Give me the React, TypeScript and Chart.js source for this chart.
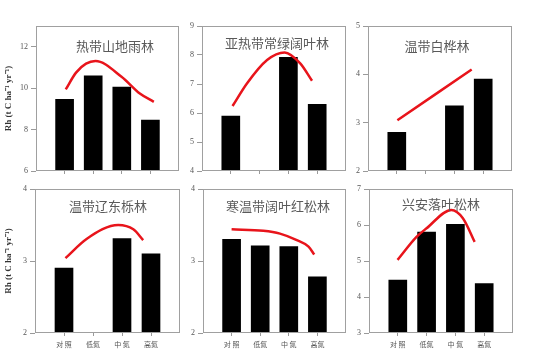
import React, { useEffect, useRef } from 'react';
import { Chart, registerables } from 'chart.js';

Chart.register(...registerables);

// ---------- data ----------
const CATEGORIES = ['对 照', '低氮', '中 氮', '高氮'];
const CATEGORY_X = [1, 2, 3, 4];
const Y_TITLE = 'Rh (t C ha⁻¹ yr⁻¹)';

const TITLE_1 = '热带山地雨林';
const BARS_1 = [9.46, 10.6, 10.05, 8.46];
const CURVE_X_1 = [1.04, 1.4, 1.75, 2.08, 2.99, 3.63, 4.12];
const CURVE_Y_1 = [9.94, 10.75, 11.18, 11.31, 10.55, 9.74, 9.34];
const Y_TICKS_1 = [6, 8, 10, 12];
const Y_RANGE_1 = [6, 13];

const TITLE_2 = '亚热带常绿阔叶林';
const BARS_2 = [5.89, null, 7.92, 6.3];
const CURVE_X_2 = [1.06, 1.56, 2.26, 2.87, 3.41, 3.82];
const CURVE_Y_2 = [6.24, 7.02, 7.83, 8.09, 7.71, 7.11];
const Y_TICKS_2 = [4, 5, 6, 7, 8, 9];
const Y_RANGE_2 = [4, 9];

const TITLE_3 = '温带白桦林';
const BARS_3 = [2.8, null, 3.35, 3.9];
const CURVE_X_3 = [1.02, 3.6];
const CURVE_Y_3 = [3.05, 4.1];
const Y_TICKS_3 = [2, 3, 4, 5];
const Y_RANGE_3 = [2, 5];

const TITLE_4 = '温带辽东栎林';
const BARS_4 = [2.9, null, 3.31, 3.1];
const CURVE_X_4 = [1.05, 1.79, 2.87, 3.39, 3.73];
const CURVE_Y_4 = [3.04, 3.31, 3.5, 3.44, 3.29];
const Y_TICKS_4 = [2, 3, 4];
const Y_RANGE_4 = [2, 4];

const TITLE_5 = '寒温带阔叶红松林';
const BARS_5 = [3.3, 3.21, 3.2, 2.78];
const CURVE_X_5 = [1.0, 2.11, 2.69, 3.28, 3.69, 3.89];
const CURVE_Y_5 = [3.44, 3.42, 3.38, 3.29, 3.2, 3.09];
const Y_TICKS_5 = [2, 3, 4];
const Y_RANGE_5 = [2, 4];

const TITLE_6 = '兴安落叶松林';
const BARS_6 = [4.47, 5.8, 6.02, 4.37];
const CURVE_X_6 = [0.99, 1.65, 2.0, 2.86, 3.26, 3.67];
const CURVE_Y_6 = [5.03, 5.67, 5.91, 6.42, 6.19, 5.53];
const Y_TICKS_6 = [3, 4, 5, 6, 7];
const Y_RANGE_6 = [3, 7];

// ---------- layout ----------
const PAD_TOP = 14;
const PAD_RIGHT = 6;
const X_H = 22;

type PanelCfg = {
  title: string;
  bars: (number | null)[];
  cx: number[];
  cy: number[];
  yTicks: number[];
  yRange: number[];
  plotL: number;
  plotT: number;
  plotW: number;
  plotH: number;
  yW: number;
  showYTitle: boolean;
  showXLabels: boolean;
  titleDx: number;
  titleDy: number;
};

const PANELS: PanelCfg[] = [
  { title: TITLE_1, bars: BARS_1, cx: CURVE_X_1, cy: CURVE_Y_1, yTicks: Y_TICKS_1, yRange: Y_RANGE_1,
    plotL: 36, plotT: 26, plotW: 143, plotH: 145, yW: 36, showYTitle: true, showXLabels: false, titleDx: 79, titleDy: 20 },
  { title: TITLE_2, bars: BARS_2, cx: CURVE_X_2, cy: CURVE_Y_2, yTicks: Y_TICKS_2, yRange: Y_RANGE_2,
    plotL: 202, plotT: 26, plotW: 144, plotH: 145, yW: 20, showYTitle: false, showXLabels: false, titleDx: 75, titleDy: 17 },
  { title: TITLE_3, bars: BARS_3, cx: CURVE_X_3, cy: CURVE_Y_3, yTicks: Y_TICKS_3, yRange: Y_RANGE_3,
    plotL: 368, plotT: 26, plotW: 144, plotH: 145, yW: 20, showYTitle: false, showXLabels: false, titleDx: 69, titleDy: 20 },
  { title: TITLE_4, bars: BARS_4, cx: CURVE_X_4, cy: CURVE_Y_4, yTicks: Y_TICKS_4, yRange: Y_RANGE_4,
    plotL: 35, plotT: 189, plotW: 145, plotH: 144, yW: 35, showYTitle: true, showXLabels: true, titleDx: 73, titleDy: 17 },
  { title: TITLE_5, bars: BARS_5, cx: CURVE_X_5, cy: CURVE_Y_5, yTicks: Y_TICKS_5, yRange: Y_RANGE_5,
    plotL: 203, plotT: 189, plotW: 143, plotH: 144, yW: 20, showYTitle: false, showXLabels: true, titleDx: 75, titleDy: 17 },
  { title: TITLE_6, bars: BARS_6, cx: CURVE_X_6, cy: CURVE_Y_6, yTicks: Y_TICKS_6, yRange: Y_RANGE_6,
    plotL: 369, plotT: 189, plotW: 144, plotH: 144, yW: 20, showYTitle: false, showXLabels: true, titleDx: 72, titleDy: 15 },
];

function makeDecor(title: string, dx: number, dy: number) {
  return {
    id: 'decor',
    afterDraw(chart: any) {
      const { ctx, chartArea } = chart;
      const l = Math.round(chartArea.left);
      const t = Math.round(chartArea.top);
      const r = Math.round(chartArea.right);
      const b = Math.round(chartArea.bottom);
      ctx.save();
      ctx.strokeStyle = '#a0a0a0';
      ctx.lineWidth = 1;
      ctx.strokeRect(l + 0.5, t + 0.5, r - l - 1, b - t - 1);
      ctx.fillStyle = '#5a5a5a';
      ctx.font = '13px "Noto Sans CJK SC"';
      ctx.textAlign = 'center';
      ctx.textBaseline = 'middle';
      ctx.fillText(title, l + dx, t + dy);
      ctx.restore();
    },
  };
}

function Panel({ cfg }: { cfg: PanelCfg }) {
  const ref = useRef<HTMLCanvasElement>(null);
  const w = cfg.yW + cfg.plotW + PAD_RIGHT;
  const h = PAD_TOP + cfg.plotH + X_H;
  const left = cfg.plotL - cfg.yW;
  const top = cfg.plotT - PAD_TOP;

  useEffect(() => {
    if (!ref.current) return;
    const barData = cfg.bars
      .map((v, i) => ({ x: CATEGORY_X[i], y: v }))
      .filter((p) => p.y !== null);
    const lineData = cfg.cx.map((x, i) => ({ x, y: cfg.cy[i] }));
    const chart = new Chart(ref.current, {
      type: 'bar',
      data: {
        datasets: [
          {
            type: 'line',
            data: lineData as any,
            borderColor: '#e8141b',
            borderWidth: 2.5,
            pointRadius: 0,
            cubicInterpolationMode: 'monotone',
            fill: false,
            order: 0,
          } as any,
          {
            type: 'bar',
            data: barData as any,
            backgroundColor: '#000000',
            borderWidth: 0,
            barThickness: 18,
            order: 1,
          } as any,
        ],
      },
      options: {
        animation: false,
        responsive: false,
        devicePixelRatio: 1,
        layout: { padding: { top: PAD_TOP, right: PAD_RIGHT, left: 0, bottom: 0 } },
        plugins: { legend: { display: false }, tooltip: { enabled: false } },
        scales: {
          x: {
            type: 'linear',
            min: 0,
            max: 5,
            offset: false,
            afterBuildTicks: (s: any) => {
              s.ticks = CATEGORY_X.map((v) => ({ value: v }));
            },
            afterFit: (s: any) => {
              s.height = X_H;
            },
            grid: { drawOnChartArea: false, tickLength: 3, color: '#9a9a9a', offset: false },
            border: { display: false },
            ticks: {
              display: cfg.showXLabels,
              autoSkip: false,
              maxRotation: 0,
              padding: 4,
              color: '#555',
              font: { family: '"Noto Sans CJK SC"', size: 7 },
              callback: (_v: any, i: number) => CATEGORIES[i],
            },
          },
          y: {
            type: 'linear',
            min: cfg.yRange[0],
            max: cfg.yRange[1],
            afterBuildTicks: (s: any) => {
              s.ticks = cfg.yTicks.map((v) => ({ value: v }));
            },
            afterFit: (s: any) => {
              s.width = cfg.yW;
            },
            grid: { drawOnChartArea: false, tickLength: 5, color: '#9a9a9a' },
            border: { display: false },
            ticks: {
              padding: 3,
              color: '#555',
              font: { family: '"Liberation Serif"', size: 8 },
            },
            title: {
              display: cfg.showYTitle,
              text: Y_TITLE,
              color: '#333',
              font: { family: '"Liberation Serif"', size: 9, weight: 'bold' },
              padding: { top: 3, bottom: 0 },
            },
          },
        },
      } as any,
      plugins: [makeDecor(cfg.title, cfg.titleDx, cfg.titleDy)],
    });
    return () => chart.destroy();
  }, []);

  return (
    <canvas
      ref={ref}
      width={w}
      height={h}
      style={{ position: 'absolute', left, top, width: w, height: h }}
    />
  );
}

export default function App() {
  return (
    <div style={{ position: 'absolute', left: 0, top: 0, width: 536, height: 357, background: '#fff', overflow: 'hidden' }}>
      {PANELS.map((p, i) => (
        <Panel key={i} cfg={p} />
      ))}
    </div>
  );
}
